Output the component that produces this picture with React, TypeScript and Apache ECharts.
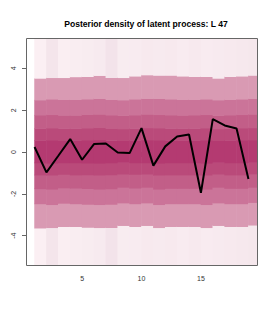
import React, { useEffect, useRef } from "react";
import * as echarts from "echarts";

// time index and posterior mean path
const timeIdx = [1, 2, 3, 4, 5, 6, 7, 8, 9, 10, 11, 12, 13, 14, 15, 16, 17, 18, 19];
const latentPath = [0.24, -0.97, -0.18, 0.62, -0.37, 0.38, 0.41, -0.02, -0.05, 1.14, -0.65, 0.27, 0.74, 0.84, -1.95, 1.57, 1.27, 1.12, -1.29];

// band boundaries per column (upper / lower), from outermost to innermost
const up5 = [3.52, 3.55, 3.55, 3.59, 3.6, 3.65, 3.55, 3.55, 3.62, 3.68, 3.66, 3.66, 3.62, 3.6, 3.6, 3.52, 3.6, 3.62, 3.66];
const up4 = [2.48, 2.52, 2.5, 2.5, 2.52, 2.55, 2.5, 2.48, 2.52, 2.55, 2.55, 2.52, 2.5, 2.5, 2.52, 2.48, 2.5, 2.52, 2.55];
const up3 = [1.76, 1.78, 1.75, 1.75, 1.78, 1.8, 1.76, 1.74, 1.76, 1.8, 1.78, 1.76, 1.75, 1.76, 1.78, 1.74, 1.76, 1.78, 1.8];
const up2 = [1.12, 1.14, 1.12, 1.12, 1.14, 1.16, 1.12, 1.1, 1.12, 1.15, 1.14, 1.12, 1.12, 1.12, 1.14, 1.1, 1.12, 1.14, 1.15];
const up1 = [0.55, 0.56, 0.54, 0.55, 0.56, 0.58, 0.55, 0.54, 0.55, 0.57, 0.56, 0.55, 0.55, 0.55, 0.56, 0.54, 0.55, 0.56, 0.57];
const lo1 = [-0.52, -0.54, -0.52, -0.52, -0.53, -0.54, -0.52, -0.5, -0.52, -0.52, -0.54, -0.52, -0.52, -0.52, -0.54, -0.5, -0.52, -0.52, -0.5];
const lo2 = [-1.1, -1.12, -1.08, -1.1, -1.1, -1.12, -1.1, -1.06, -1.08, -1.06, -1.12, -1.1, -1.1, -1.1, -1.12, -1.06, -1.1, -1.1, -1.05];
const lo3 = [-1.76, -1.78, -1.72, -1.74, -1.75, -1.78, -1.76, -1.7, -1.74, -1.7, -1.78, -1.75, -1.75, -1.75, -1.78, -1.7, -1.75, -1.75, -1.7];
const lo4 = [-2.48, -2.52, -2.46, -2.48, -2.5, -2.52, -2.5, -2.44, -2.48, -2.44, -2.52, -2.48, -2.48, -2.48, -2.52, -2.44, -2.48, -2.48, -2.42];
const lo5 = [-3.64, -3.62, -3.57, -3.57, -3.6, -3.62, -3.62, -3.52, -3.57, -3.52, -3.62, -3.57, -3.57, -3.57, -3.62, -3.52, -3.57, -3.57, -3.5];

// colours from outermost (lightest) to centre (darkest); outer band tinted per column
const outerTint = ["#FBEFF3", "#F4E5EB", "#FAEEF2", "#F9EDF1", "#F8ECF0", "#F7EAEF", "#F3E3EA", "#F8ECF0", "#F8EBF0", "#F7E9EE", "#F7EAEF", "#F7E9EE", "#F8EBF0", "#F7E9EE", "#F8EBF0", "#F7EAEF", "#F7E9EE", "#F6E8ED", "#F5E7EC"];
const bandColors = ["#F6E8EE", "#D99AB3", "#CB7499", "#C25E88", "#BA4A7A", "#B43A71"];

const yExtentLow = -6;
const yExtentHigh = 6;

const xTicks = [5, 10, 15];
const yTicks = [-4, -2, 0, 2, 4];
const titleText = "Posterior density of latent process: L 47";

const FONT = "'Liberation Sans', Arial, Helvetica, sans-serif";

export default function App() {
  const ref = useRef<HTMLDivElement>(null);

  useEffect(() => {
    if (!ref.current) return;
    const chart = echarts.init(ref.current, null, { renderer: "svg" });

    // cells: [x0, x1, lo, hi, colorIndex, column]
    const cells: number[][] = [];
    timeIdx.forEach((t, i) => {
      const bounds = [yExtentLow, lo5[i], lo4[i], lo3[i], lo2[i], lo1[i], up1[i], up2[i], up3[i], up4[i], up5[i], yExtentHigh];
      const colorIdx = [0, 1, 2, 3, 4, 5, 4, 3, 2, 1, 0];
      for (let k = 0; k < bounds.length - 1; k++) {
        cells.push([t, t + 1, bounds[k], bounds[k + 1], colorIdx[k], i]);
      }
    });

    const option: any = {
      animation: false,
      title: {
        text: titleText,
        left: 141,
        textAlign: "center",
        top: 14,
        textStyle: { fontFamily: FONT, fontSize: 8.6, fontWeight: "bold", color: "#000" },
      },
      grid: { left: 26, top: 38, width: 231, height: 227, show: false },
      xAxis: {
        type: "value",
        min: 0.28,
        max: 19.72,
        splitLine: { show: false },
        axisLine: { show: false },
        axisTick: { show: true, customValues: xTicks, length: 5, lineStyle: { color: "#666" } },
        axisLabel: { customValues: xTicks, margin: 10, fontFamily: FONT, fontSize: 7, color: "#333" },
      },
      yAxis: {
        type: "value",
        min: -5.4,
        max: 5.45,
        splitLine: { show: false },
        axisLine: { show: false },
        axisTick: { show: true, customValues: yTicks, length: 4, lineStyle: { color: "#666" } },
        axisLabel: {
          customValues: yTicks,
          rotate: 90,
          margin: 9,
          fontFamily: FONT,
          fontSize: 7,
          color: "#333",
        },
      },
      series: [
        {
          type: "custom",
          data: cells,
          z: 1,
          renderItem: (params: any, api: any) => {
            const x0 = api.value(0);
            const x1 = api.value(1);
            const lo = api.value(2);
            const hi = api.value(3);
            const ci = api.value(4);
            const col = api.value(5);
            const p0 = api.coord([x0, hi]);
            const p1 = api.coord([x1, lo]);
            const rect = {
              x: p0[0] - 0.3,
              y: p0[1] - 0.3,
              width: p1[0] - p0[0] + 0.6,
              height: p1[1] - p0[1] + 0.6,
            };
            const cs = params.coordSys;
            const clipped = echarts.graphic.clipRectByRect(rect, {
              x: cs.x,
              y: cs.y,
              width: cs.width,
              height: cs.height,
            });
            if (!clipped) return null;
            const fill = ci === 0 ? outerTint[col] : bandColors[ci];
            return { type: "rect", shape: clipped, style: { fill } };
          },
        },
        {
          type: "line",
          data: timeIdx.map((t, i) => [t, latentPath[i]]),
          showSymbol: false,
          symbol: "none",
          z: 5,
          lineStyle: { color: "#000", width: 2 },
        },
      ],
      graphic: [
        {
          type: "rect",
          shape: { x: 26.5, y: 38.5, width: 231, height: 227 },
          style: { fill: "none", stroke: "#666", lineWidth: 1 },
          z: 100,
        },
      ],
    };
    chart.setOption(option);
    return () => chart.dispose();
  }, []);

  return (
    <div
      ref={ref}
      style={{ position: "fixed", left: 0, top: 0, width: 275, height: 314, background: "#fff" }}
    />
  );
}
